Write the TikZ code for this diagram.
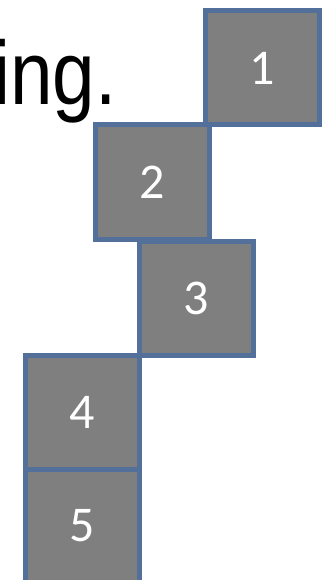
\documentclass[tikz,border=0pt]{standalone}
\usepackage{fontspec}
\setmainfont{Carlito}
\newfontfamily\wordfont{Liberation Sans}
\usepackage{tikz}
\usetikzlibrary{positioning}
\definecolor{blockgray}{HTML}{7F7F7F}
\definecolor{blockedge}{HTML}{52709A}

\begin{document}
\begin{tikzpicture}[x=1pt,y=-1pt,
  blockbox/.style={draw=blockedge,fill=blockgray,line width=5pt,minimum width=114pt,minimum height=114pt,inner sep=0pt,text=white,font=\fontsize{50}{50}\selectfont}]
\clip (0,0) rectangle (326,580);
\node[anchor=base east,inner sep=0pt,font=\wordfont\fontsize{90}{90}\selectfont] (word) at (117,105) {\scalebox{0.85}[1]{ing.}};
\node[blockbox] (b1) at (262,68) {1};
\node[blockbox] (b2) at (152,182) {2};
\node[blockbox] (b3) at (196,298) {3};
\node[blockbox] (b4) at (82,412) {4};
\node[blockbox] (b5) at (82,526) {5};
\end{tikzpicture}
\end{document}
